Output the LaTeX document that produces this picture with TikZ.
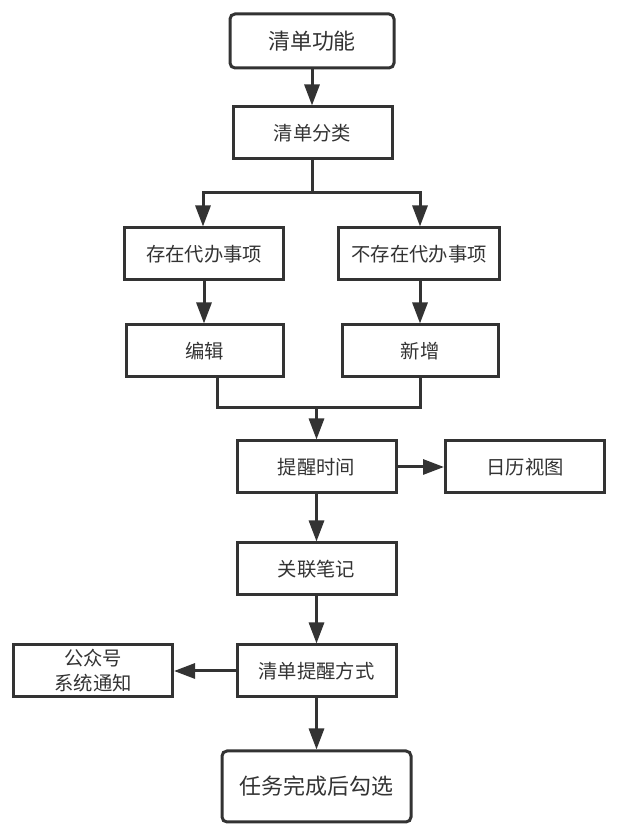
\documentclass[tikz,border=0pt]{standalone}
\usepackage{fontspec}
\newfontfamily\cjk{Noto Sans CJK SC}
\usepackage{tikz}
\usetikzlibrary{arrows,arrows.meta,calc,positioning}
\definecolor{lineGray}{HTML}{333333}
\newcommand*{\xMax}{12.46}
\newcommand*{\yMax}{16.58}

\tikzset{
	box/.style={draw=lineGray,line width=0.06cm,minimum width=3.18cm,minimum height=1.04cm,
		inner sep=0pt,align=center,text=lineGray,font=\cjk\fontsize{11}{14.2}\selectfont},
	endbox/.style={box,rounded corners=0.1cm,font=\cjk\fontsize{12.5}{15}\selectfont},
	flow/.style={draw=lineGray,line width=0.06cm},
	flowarrow/.style={flow,-{Triangle[length=0.42cm,width=0.3cm]}}
}

\begin{document}
\begin{tikzpicture}

	\useasboundingbox (0,0) rectangle (\xMax,\yMax);

	\node[endbox,minimum width=3.28cm,minimum height=1.08cm] (start) at (6.24,15.76) {清单功能};
	\node[box] (sort) at (6.25,13.92) {清单分类};

	\node[box] (todo) at (4.08,11.5) {存在代办事项};
	\node[box,minimum width=3.22cm] (notodo) at (8.38,11.5) {不存在代办事项};
	\node[box,minimum width=3.14cm] (edit) at (4.09,9.56) {编辑};
	\node[box,minimum width=3.12cm] (add) at (8.4,9.56) {新增};

	\node[box] (remind) at (6.33,7.24) {提醒时间};
	\node[box] (calendar) at (10.5,7.24) {日历视图};
	\node[box] (note) at (6.33,5.2) {关联笔记};
	\node[box] (mode) at (6.33,3.16) {清单提醒方式};
	\node[box] (notice) at (1.86,3.16) {公众号\\系统通知};
	\node[endbox,minimum width=3.78cm,minimum height=1.42cm] (done) at (6.33,0.85) {任务完成后勾选};

	% split and join points
	\coordinate (split) at (6.25,12.72);
	\coordinate (joinL) at (4.34,8.42);
	\coordinate (joinR) at (8.4,8.42);
	\coordinate (join) at (6.33,8.42);

	\draw[flowarrow] (start) -- (start |- sort.north);
	\draw[flow] (sort.south) -- (split);
	\draw[flowarrow] (split) -| (4.06,11.5 |- todo.north);
	\draw[flowarrow] (split) -| (add |- notodo.north);

	\draw[flowarrow] (todo) -- (todo |- edit.north);
	\draw[flowarrow] (add |- notodo.south) -- (add);

	\draw[flow] (joinL |- edit.south) -- (joinL) -- (joinR) -- (add.south);
	\draw[flowarrow] (join) -- (remind.north);

	\draw[flowarrow] (remind) -- (calendar);
	\draw[flowarrow] (remind) -- (note);
	\draw[flowarrow] (note) -- (mode);
	\draw[flowarrow] (mode) -- (notice);
	\draw[flowarrow] (mode) -- (done);

\end{tikzpicture}
\end{document}
